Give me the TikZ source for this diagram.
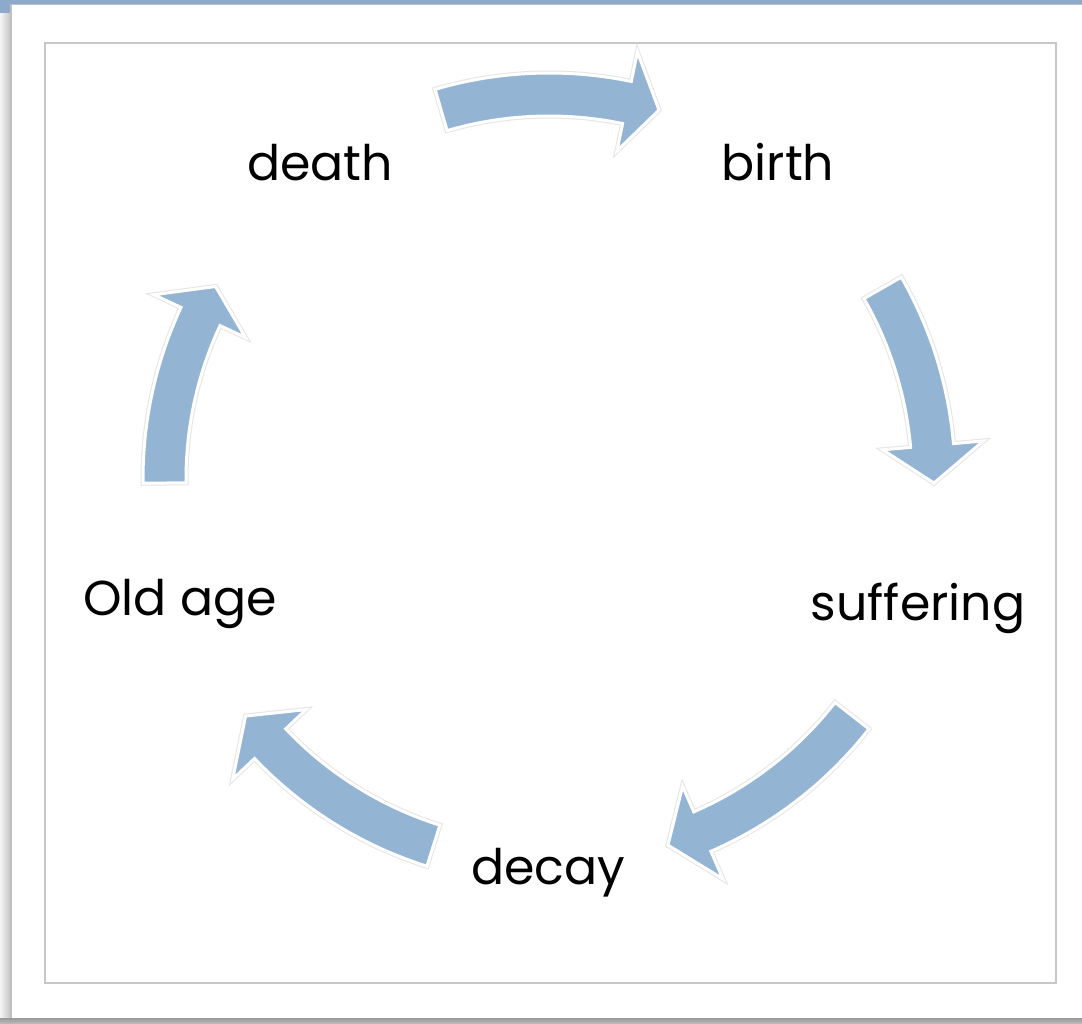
\documentclass[tikz,border=0pt]{standalone}
\usepackage{fontspec}
\setmainfont{Poppins}
\definecolor{arrowblue}{HTML}{94B4D4}
\definecolor{topblue}{HTML}{8DA9CB}
\newcommand{\blockarrow}[3]{%
  \def\arrowpath{(#1:406) arc[start angle=#1, end angle=#2, radius=406] -- (#2:436) -- (#3:385) -- (#2:335) -- (#2:363) arc[start angle=#2, end angle=#1, radius=363] -- cycle}%
  \path[halo] \arrowpath;
  \path[blockfill] \arrowpath;}
\begin{document}
\begin{tikzpicture}[x=1pt,y=1pt,
  lbl/.style={font=\fontsize{49}{58}\selectfont, anchor=base, inner sep=0pt, text=black},
  halo/.style={draw=black!10, line width=5pt, line join=miter},
  blockfill/.style={fill=arrowblue, draw=white, line width=3pt, line join=miter}]
\useasboundingbox (0,0) rectangle (1082,-1024);
\fill[white] (0,0) rectangle (1082,-1024);
% window shadows
\shade[left color=black!4, right color=black!22] (0,-4) rectangle (10,-1024);
\shade[top color=black!40, bottom color=black!25] (0,-1018) rectangle (1082,-1024);
\fill[topblue] (0,0) rectangle (1082,-4);
\fill[topblue] (0,0) rectangle (10,-13);
% page
\fill[white] (10,-4) rectangle (1082,-1018);
\draw[black!25, line width=1.5pt] (10.75,-1018) -- (10.75,-4.75) -- (1082,-4.75);
% inner frame
\draw[black!22, line width=1.5pt] (45,-43) rectangle (1056,-983);
% cycle arrows
\begin{scope}[shift={(549,-479)}]
  \blockarrow{106.3}{78.3}{73.4}
  \blockarrow{29.8}{5}{-0.6}
  \blockarrow{-38}{-66.5}{-72}
  \blockarrow{-107.5}{-136.5}{-142}
  \blockarrow{180.6}{155}{150}
\end{scope}
% labels
\node[lbl] (death) at (320,-181) {death};
\node[lbl] (birth) at (778,-181) {birth};
\node[lbl] (suffering) at (918,-620) {suffering};
\node[lbl] (decay) at (548,-884) {decay};
\node[lbl] (oldage) at (180,-615) {Old age};
\end{tikzpicture}
\end{document}
